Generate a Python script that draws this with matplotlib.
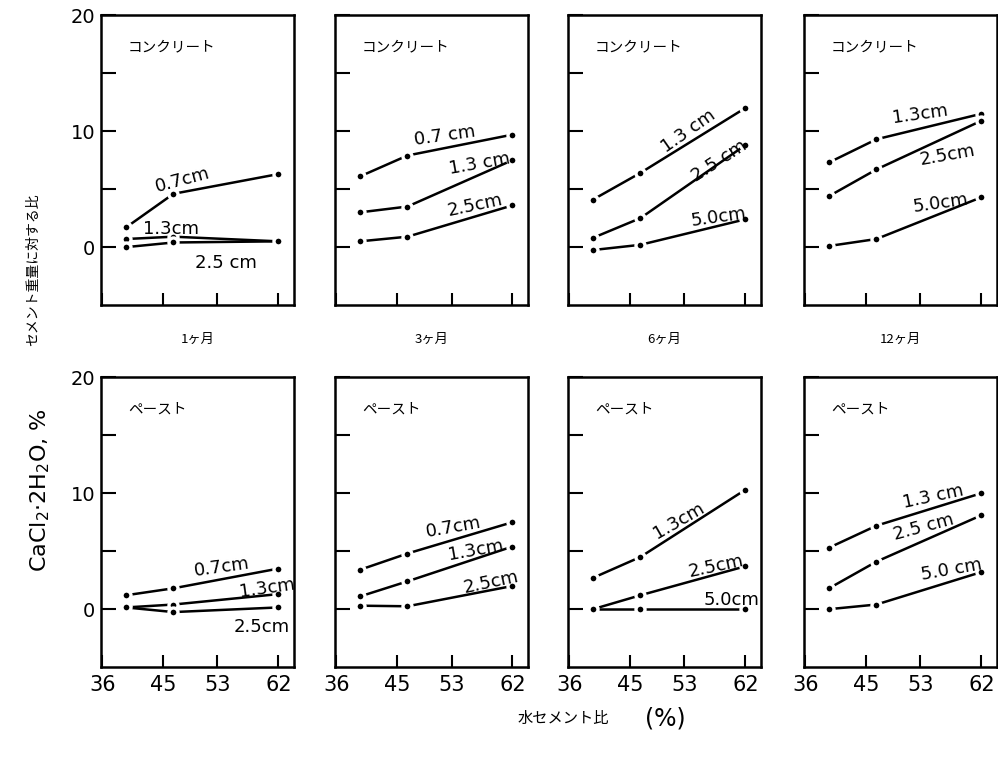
import matplotlib
matplotlib.use("Agg")
import matplotlib.pyplot as plt
from matplotlib.ticker import FixedLocator

JP = ['Noto Sans CJK JP', 'DejaVu Sans']

# water/cement ratio of the three mixes (%)
wc = [39.5, 46.5, 62]
xticks = [36, 45, 53, 62]
months = ['1ヶ月', '3ヶ月', '6ヶ月', '12ヶ月']
materials = ['コンクリート', 'ペースト']

# CaCl2·2H2O (% of cement weight), one list per depth
conc_1m_depths = ['0.7cm', '1.3cm', '2.5 cm']
conc_1m_vals = [[1.7, 4.6, 6.3], [0.7, 0.9, 0.5], [0.0, 0.4, 0.5]]
conc_3m_depths = ['0.7 cm', '1.3 cm', '2.5cm']
conc_3m_vals = [[6.1, 7.9, 9.7], [3.0, 3.5, 7.5], [0.5, 0.9, 3.6]]
conc_6m_depths = ['1.3 cm', '2.5 cm', '5.0cm']
conc_6m_vals = [[4.1, 6.4, 12.0], [0.8, 2.5, 8.8], [-0.25, 0.2, 2.4]]
conc_12m_depths = ['1.3cm', '2.5cm', '5.0cm']
conc_12m_vals = [[7.3, 9.3, 11.5], [4.4, 6.7, 10.9], [0.1, 0.7, 4.3]]

paste_1m_depths = ['0.7cm', '1.3cm', '2.5cm']
paste_1m_vals = [[1.2, 1.8, 3.5], [0.15, 0.4, 1.3], [0.15, -0.25, 0.15]]
paste_3m_depths = ['0.7cm', '1.3cm', '2.5cm']
paste_3m_vals = [[3.4, 4.8, 7.5], [1.1, 2.4, 5.4], [0.3, 0.25, 2.0]]
paste_6m_depths = ['1.3cm', '2.5cm', '5.0cm']
paste_6m_vals = [[2.7, 4.5, 10.3], [0.0, 1.2, 3.7], [0.0, 0.0, 0.0]]
paste_12m_depths = ['1.3 cm', '2.5 cm', '5.0 cm']
paste_12m_vals = [[5.3, 7.2, 10.0], [1.8, 4.1, 8.1], [0.0, 0.4, 3.2]]

panels = [
    [(conc_1m_depths, conc_1m_vals), (conc_3m_depths, conc_3m_vals),
     (conc_6m_depths, conc_6m_vals), (conc_12m_depths, conc_12m_vals)],
    [(paste_1m_depths, paste_1m_vals), (paste_3m_depths, paste_3m_vals),
     (paste_6m_depths, paste_6m_vals), (paste_12m_depths, paste_12m_vals)],
]

# where the depth labels sit (x, y, rotation)
label_pos = [
    [[(47.9, 5.8, 15), (46.1, 1.6, 0), (54.2, -1.4, 0)],
     [(52.0, 9.6, 8), (57.1, 7.2, 10), (56.4, 3.6, 12)],
     [(53.6, 10.0, 35), (58.1, 7.4, 33), (58.0, 2.6, 8)],
     [(52.9, 11.5, 8), (57.0, 7.9, 10), (56.0, 3.8, 8)]],
    [[(53.6, 3.6, 8), (60.3, 1.8, 8), (59.6, -1.5, 0)],
     [(53.3, 7.1, 10), (56.5, 5.1, 10), (58.9, 2.3, 12)],
     [(52.1, 7.6, 30), (57.7, 3.7, 12), (59.9, 0.8, 0)],
     [(54.8, 9.7, 12), (53.4, 7.1, 15), (57.6, 3.4, 10)]],
]

fig = plt.figure(figsize=(9.98, 7.59), dpi=100)

lefts = [0.1012, 0.3357, 0.5691, 0.8056]
bottoms = [0.598, 0.121]
w, h = 0.1934, 0.382

for r in range(2):
    for c in range(4):
        ax = fig.add_axes([lefts[c], bottoms[r], w, h])
        depths, vals = panels[r][c]
        for k in range(len(depths)):
            ax.plot(wc, vals[k], color='black', lw=1.8, marker='o', ms=6.5,
                    mfc='black', mec='white', mew=2.4, solid_capstyle='butt')
            lx, ly, rot = label_pos[r][c][k]
            ax.text(lx, ly, depths[k], fontsize=13, rotation=rot,
                    ha='center', va='center', rotation_mode='anchor')
        ax.set_xlim(35.8, 64.3)
        ax.set_ylim(-5, 20)
        for s in ax.spines.values():
            s.set_linewidth(1.8)
        ax.xaxis.set_major_locator(FixedLocator(xticks))
        ax.yaxis.set_major_locator(FixedLocator([0, 5, 10, 15, 20]))
        ax.tick_params(axis='y', direction='in', length=11, width=1.5,
                       labelsize=14, pad=4)
        ax.tick_params(axis='x', direction='in', length=9, width=1.5,
                       labelsize=15, pad=6)
        if r == 1:
            ax.set_xticklabels([str(t) for t in xticks])
        else:
            ax.set_xticklabels([])
        if c == 0:
            ax.set_yticklabels(['0', '', '10', '', '20'])
        else:
            ax.set_yticklabels([])
        ax.text(39.8, 17.2, materials[r], family=JP, fontsize=10.5,
                ha='left', va='center')
        if r == 0:
            ax.text(0.5, -0.12, months[c], family=JP, fontsize=9.5,
                    ha='center', va='center', transform=ax.transAxes)

fig.text(0.033, 0.645, 'セメント重量に対する比', family=JP, fontsize=10,
         rotation=90, ha='center', va='center')
fig.text(0.040, 0.355, 'CaCl$_2$·2H$_2$O, %', fontsize=16,
         rotation=90, ha='center', va='center')
fig.text(0.564, 0.054, '水セメント比', family=JP, fontsize=11,
         ha='center', va='center')
fig.text(0.667, 0.054, '(%)', fontsize=17, ha='center', va='center')

fig.savefig('out.png', dpi=100)
